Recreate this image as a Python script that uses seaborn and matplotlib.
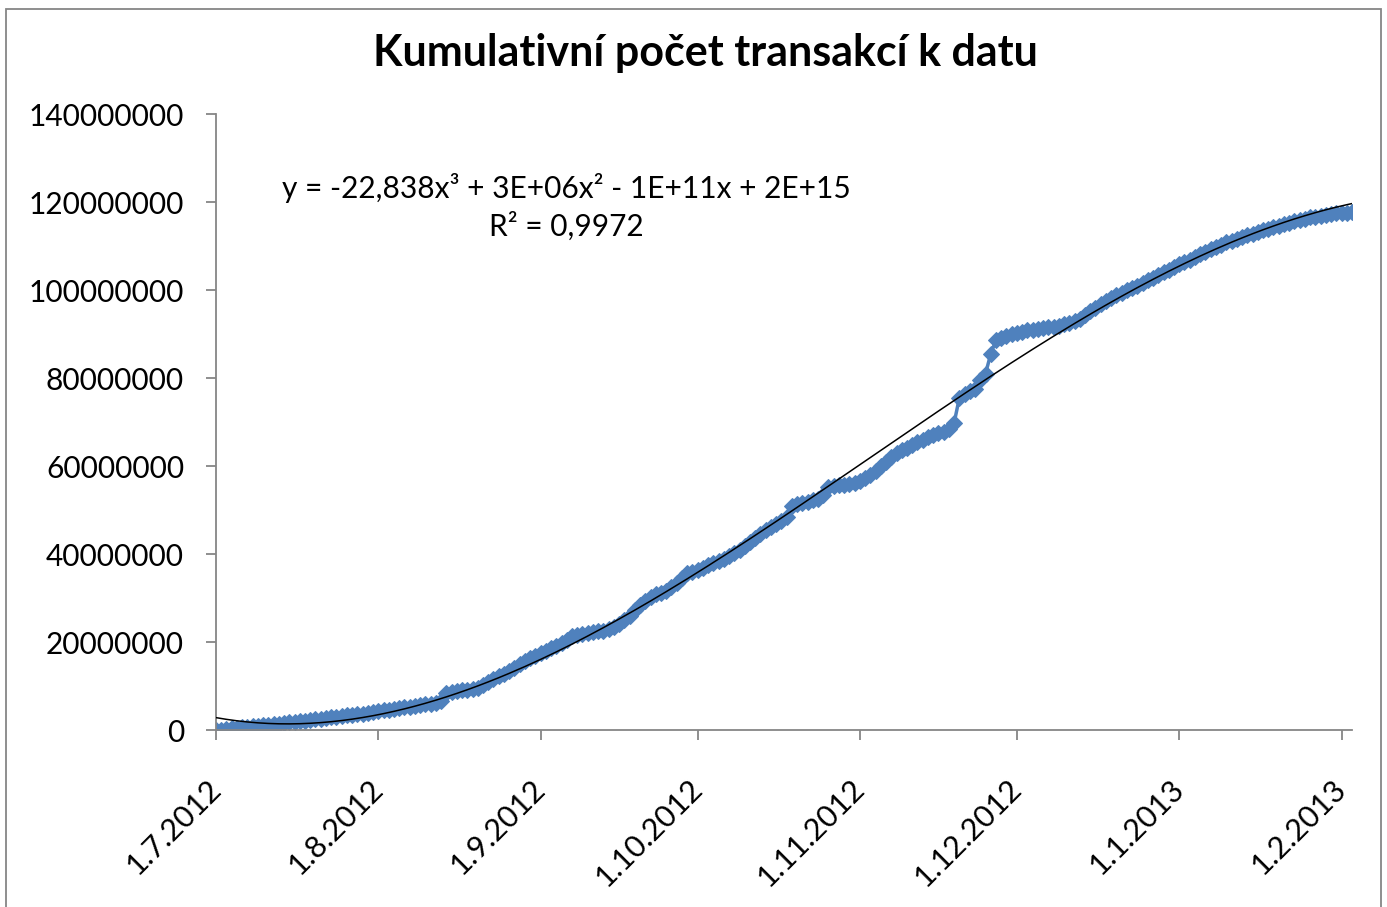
import numpy as np
import pandas as pd
import matplotlib
matplotlib.use("Agg")
import matplotlib.pyplot as plt
import matplotlib.dates as mdates
from matplotlib.ticker import FuncFormatter, MultipleLocator
from matplotlib.patches import Rectangle
import seaborn as sns

# daily cumulative transactions (millions)
start_date = "2012-07-01"
end_date = "2013-02-03"
cum_transactions_mil = [
    0.0, 0.1, 0.25, 0.35, 0.5, 0.6, 0.7, 0.8, 0.95, 1.05,
    1.2, 1.3, 1.45, 1.6, 1.75, 1.9, 2.0, 2.15, 2.3, 2.45,
    2.6, 2.75, 2.9, 3.0, 3.15, 3.3, 3.45, 3.6, 3.75, 3.9,
    4.1, 4.3, 4.45, 4.6, 4.8, 5.0, 5.15, 5.3, 5.45, 5.6,
    5.8, 6.0, 6.2, 6.6, 8.4, 8.7, 8.85, 9.0, 9.1, 9.25,
    9.5, 10.3, 10.9, 11.6, 12.2, 12.8, 13.5, 14.2, 15.0, 15.6,
    16.3, 16.9, 17.5, 18.0, 18.6, 19.2, 19.8, 20.5, 21.3, 21.6,
    21.8, 22.0, 22.2, 22.4, 22.6, 22.9, 23.4, 24.1, 25.0, 26.0,
    27.2, 28.4, 29.4, 30.3, 30.8, 31.2, 31.6, 32.4, 33.5, 34.6,
    35.6, 36.0, 36.4, 36.9, 37.4, 37.9, 38.4, 38.9, 39.5, 40.2,
    41.0, 41.9, 42.8, 43.7, 44.6, 45.5, 46.2, 46.9, 47.6, 48.4,
    51.0, 51.3, 51.6, 51.9, 52.2, 52.6, 53.5, 55.3, 55.5, 55.6,
    55.7, 55.9, 56.1, 56.5, 57.2, 58.0, 58.9, 60.0, 61.0, 62.0,
    63.0, 63.6, 64.2, 64.8, 65.4, 66.0, 66.5, 67.0, 67.4, 67.8,
    68.3, 69.8, 75.5, 76.4, 77.0, 77.6, 79.6, 81.0, 85.5, 88.6,
    89.1, 89.5, 89.9, 90.2, 90.5, 90.8, 91.0, 91.2, 91.4, 91.5,
    91.7, 91.9, 92.2, 92.5, 92.9, 93.5, 94.3, 95.2, 96.0, 96.9,
    97.6, 98.2, 98.8, 99.4, 100.0, 100.5, 101.0, 101.6, 102.2, 102.8,
    103.4, 104.0, 104.6, 105.2, 105.8, 106.3, 106.9, 107.5, 108.1, 108.7,
    109.3, 109.8, 110.3, 110.8, 111.2, 111.6, 112.0, 112.4, 112.8, 113.2,
    113.6, 113.9, 114.3, 114.6, 115.0, 115.3, 115.6, 115.9, 116.2, 116.5,
    116.7, 116.9, 117.1, 117.3, 117.4, 117.5, 117.6, 117.7,
]
title = "Kumulativní počet transakcí k datu"
equation = "y = -22,838x³ + 3E+06x² - 1E+11x + 2E+15\nR² = 0,9972"

dates = pd.date_range(start_date, end_date, freq="D")
df = pd.DataFrame({"datum": dates, "pocet": np.array(cum_transactions_mil) * 1e6})

# cubic trendline like in Excel
day = np.arange(len(df))
coef = np.polyfit(day, df["pocet"], 3)
df["trend"] = np.polyval(coef, day)

sns.set_style("white")
plt.rcParams['font.family'] = ['Lato', 'DejaVu Sans']
plt.rcParams['text.color'] = 'black'

fig = plt.figure(figsize=(13.87, 9.07), dpi=100)
ax = fig.add_axes([216 / 1387, 1 - 730 / 907, (1352 - 216) / 1387, (730 - 114) / 907])

sns.lineplot(data=df, x="datum", y="pocet", ax=ax, color="#4F81BD", linewidth=2.5,
             marker="D", markersize=8.5, markeredgecolor="#4F81BD", zorder=2)
sns.lineplot(data=df, x="datum", y="trend", ax=ax, color="black", linewidth=1.1, zorder=3)

ax.set_ylim(0, 140e6)
ax.set_xlim(dates[0], dates[-1])
ax.yaxis.set_major_locator(MultipleLocator(20e6))
ax.yaxis.set_major_formatter(FuncFormatter(lambda v, p: f"{int(round(v))}"))
ax.xaxis.set_major_locator(mdates.MonthLocator())
ax.xaxis.set_major_formatter(FuncFormatter(
    lambda v, p: f"{mdates.num2date(v).day}.{mdates.num2date(v).month}.{mdates.num2date(v).year}"))

ax.set_xlabel("")
ax.set_ylabel("")
for s in ["top", "right"]:
    ax.spines[s].set_visible(False)
for s in ["left", "bottom"]:
    ax.spines[s].set_color("#868686")
    ax.spines[s].set_linewidth(1.3)

ax.tick_params(axis="y", direction="out", length=7, width=1.3, color="#868686",
               labelsize=21.5, labelcolor="black", pad=16, left=True)
ax.tick_params(axis="x", direction="out", length=7, width=1.3, color="#868686",
               labelsize=22, labelcolor="black", pad=32, bottom=True)
for lab in ax.get_xticklabels():
    lab.set_rotation(45)
    lab.set_ha("right")
    lab.set_va("center")
    lab.set_rotation_mode("anchor")

fig.text(705 / 1387, 1 - 53 / 907, title, ha="center", va="center",
         fontsize=31, fontweight="bold", color="black")
fig.text(566 / 1387, 1 - 207 / 907, equation, ha="center", va="center",
         fontsize=21.5, linespacing=1.35, color="black")

# chart border
fig.patches.append(Rectangle((6 / 1387, -0.02), (1381 - 6) / 1387, 1.02 - 9 / 907,
                             transform=fig.transFigure, fill=False,
                             edgecolor="#868686", linewidth=1.3))

fig.savefig("out.png", dpi=100)
